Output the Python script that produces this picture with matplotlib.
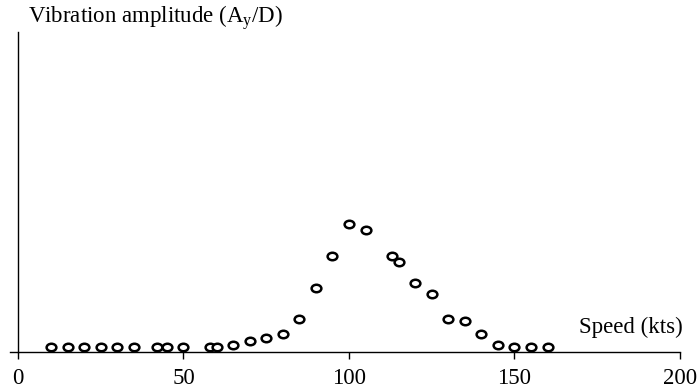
import matplotlib
matplotlib.use("Agg")
import matplotlib.pyplot as plt
from matplotlib.markers import MarkerStyle
from matplotlib.transforms import Affine2D

plt.rcParams["font.family"] = ["Liberation Serif", "DejaVu Serif"]
plt.rcParams["mathtext.fontset"] = "custom"
plt.rcParams["mathtext.rm"] = "Liberation Serif"
plt.rcParams["mathtext.it"] = "Liberation Serif"

# Measured vibration amplitude versus speed
speed_kts = [10, 15, 20, 25, 30, 35, 42, 45, 50, 58, 60, 65, 70, 75, 80, 85,
             90, 95, 100, 105, 113, 115, 120, 125, 130, 135, 140, 145, 150, 155, 160]
amplitude = [0.016, 0.016, 0.016, 0.016, 0.016, 0.016, 0.016, 0.016, 0.016, 0.016,
             0.016, 0.022, 0.034, 0.043, 0.056, 0.102, 0.200, 0.300, 0.400, 0.380,
             0.300, 0.280, 0.216, 0.182, 0.103, 0.096, 0.056, 0.023, 0.017, 0.017, 0.017]
x_ticks = [0, 50, 100, 150, 200]

fig = plt.figure(figsize=(6.98, 3.9), dpi=100)
ax = fig.add_axes([10 / 698, 38 / 390, 670 / 698, 320 / 390])

oval = MarkerStyle("o", transform=Affine2D().scale(1.3, 1.0))
ax.plot(speed_kts, amplitude, linestyle="none", marker=oval, markersize=5.4,
        markerfacecolor="white", markeredgecolor="black", markeredgewidth=1.8,
        clip_on=False)

ax.set_xlim(-2.4, 200)
ax.set_ylim(0, 1.0)

for side in ("top", "right"):
    ax.spines[side].set_visible(False)
ax.spines["left"].set_position(("data", 0))
ax.spines["left"].set_linewidth(1.0)
ax.spines["bottom"].set_linewidth(1.0)

ax.set_xticks(x_ticks)
ax.set_xticklabels([str(t) for t in x_ticks])
ax.tick_params(axis="x", direction="out", length=5, width=1.0, labelsize=16.5, pad=6.5)
ax.set_yticks([])

fig.text(28 / 698, 1 - 18 / 390, r"Vibration amplitude (A$_{\mathrm{y}}$/D)",
         fontsize=16.5, ha="left", va="center")
fig.text(683 / 698, 1 - 327 / 390, "Speed (kts)", fontsize=16.5, ha="right", va="center")

fig.savefig("out.png", dpi=100)
